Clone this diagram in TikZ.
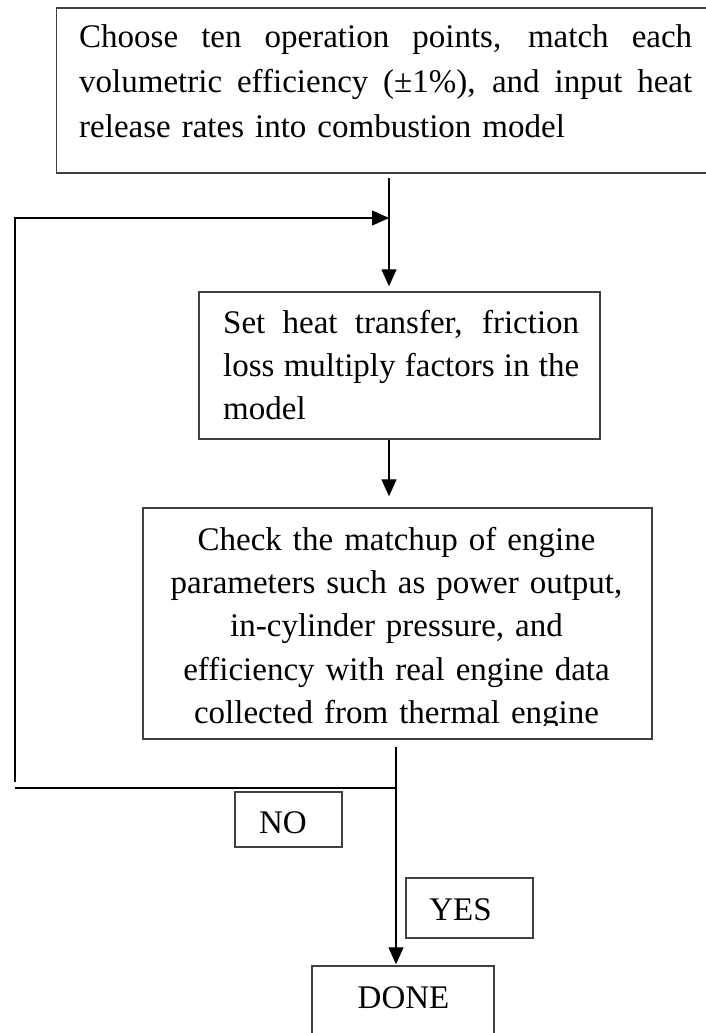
\documentclass[tikz,border=0pt]{standalone}
\usepackage{fontspec}
\setmainfont{Liberation Serif}
\usetikzlibrary{arrows.meta}
\newcommand\fullline[2]{\makebox[#1][s]{\spaceskip=0pt\xspaceskip=0pt #2}}
\begin{document}
\begin{tikzpicture}[x=1pt,y=-1pt,
  frame/.style={draw=black!75,line width=1.4pt,inner sep=0pt,rectangle},
  txt/.style={inner sep=0pt,font=\fontsize{33}{43.3}\selectfont},
  conn/.style={draw=black,line width=1.3pt},
  arr/.style={conn,-{Triangle[length=17pt,width=15pt]}}]
\useasboundingbox (0,0) rectangle (705,1033);
% boxes
\node[frame,minimum width=655.5pt,minimum height=165pt] (b1) at (384.25,90.5) {};
\node[frame,minimum width=401pt,minimum height=147pt] (b2) at (399.5,365.5) {};
\node[frame,minimum width=509pt,minimum height=231pt] (b3) at (397.5,623.5) {};
\node[frame,minimum width=107pt,minimum height=55pt] (nobox) at (288.5,819.5) {};
\node[frame,minimum width=127pt,minimum height=60pt] (yesbox) at (469.5,908) {};
\node[frame,minimum width=182pt,minimum height=90pt] (done) at (403,1011) {};
% texts
\node[txt,font=\fontsize{33}{44.8}\selectfont,text width=613pt,align=left,anchor=north west] (t1) at (79,17.5)
 {\rule{0pt}{30pt}\fullline{613pt}{Choose ten operation points, match each}\\
  \fullline{613pt}{volumetric efficiency (±1\%), and input heat}\\
  release rates into combustion model};
\node[txt,font=\fontsize{33}{43}\selectfont,text width=356pt,align=left,anchor=north west] (t2) at (223,303)
 {\rule{0pt}{30pt}\fullline{356pt}{Set heat transfer, friction}\\
  \fullline{356pt}{loss multiply factors in the}\\
  model};
\begin{scope}
\clip (140,505) rectangle (655,725.5);
\node[txt,text width=500pt,align=center,anchor=north] (t3) at (396.5,520)
 {\rule{0pt}{30pt}Check the matchup of engine\\
  parameters such as power output,\\
  in-cylinder pressure, and\\
  efficiency with real engine data\\
  collected from thermal engine};
\end{scope}
\node[txt,anchor=base] (tno) at (283,833) {NO};
\node[txt,anchor=base] (tyes) at (460.5,920) {YES};
\node[txt,anchor=base] (tdone) at (403.5,1008) {DONE};
% connectors
\coordinate (a1) at (389,178);
\coordinate (j1) at (389,218);
\coordinate (fl) at (15,218);
\coordinate (f0) at (15,782);
\coordinate (a3) at (396,747);
\coordinate (j2) at (396,788);
\coordinate (hl) at (14.5,788);
\draw[arr] (a1) -- ([yshift=5pt]a1 |- b2.north);
\draw[arr] (f0) -- (fl) -- (j1);
\draw[arr] (b2.south -| a1) -- ([yshift=11pt]a1 |- b3.north);
\draw[conn] (j2) -- (hl);
\draw[arr] (a3) -- ([yshift=1pt]a3 |- done.north);
\end{tikzpicture}
\end{document}
